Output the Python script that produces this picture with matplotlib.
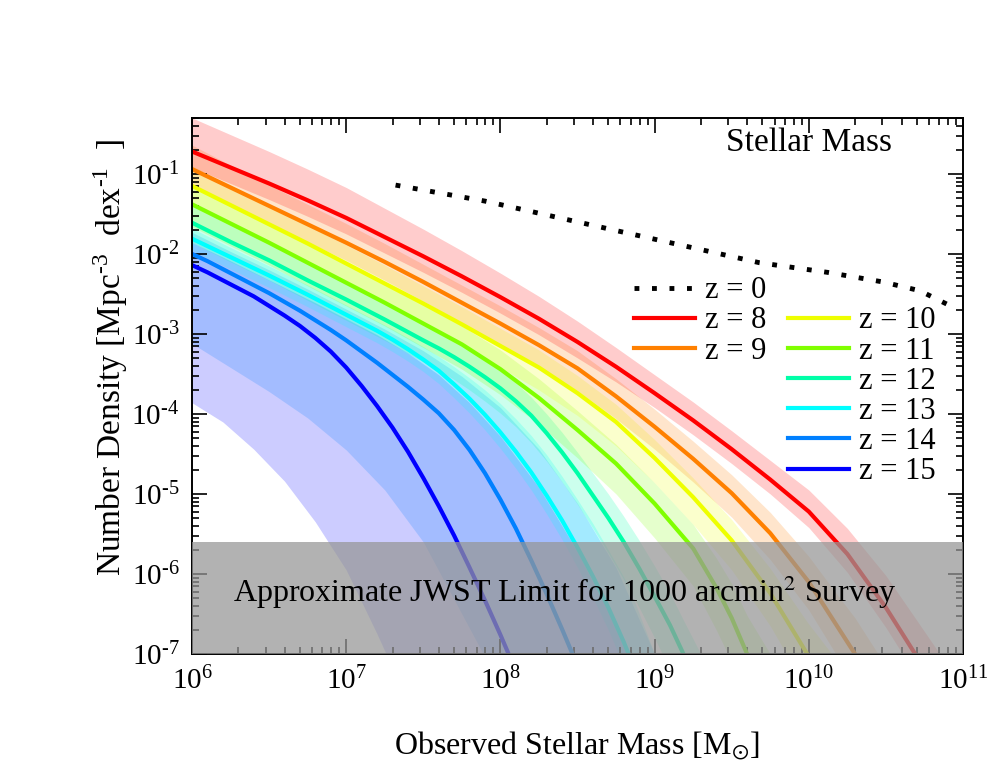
import numpy as np
import matplotlib
matplotlib.use("Agg")
import matplotlib.pyplot as plt
from matplotlib.ticker import LogLocator, NullFormatter, FuncFormatter

plt.rcParams["font.family"] = ["Liberation Serif", "DejaVu Serif"]
plt.rcParams["mathtext.fontset"] = "stix"

# log10 stellar mass, log10 number density (line, band top, band bottom)
logm_z8 = [6.0, 6.25, 6.5, 6.75, 7.0, 7.25, 7.5, 7.75, 8.0, 8.25, 8.5, 8.75, 9.0, 9.25, 9.5, 9.75, 10.0, 10.25, 10.5, 10.69, 10.85]
logn_z8 = [-0.72, -0.92, -1.12, -1.33, -1.55, -1.79, -2.03, -2.28, -2.54, -2.81, -3.10, -3.41, -3.74, -4.08, -4.44, -4.82, -5.22, -5.75, -6.42, -7.0, -7.55]
hi_z8 = [-0.30, -0.51, -0.72, -0.94, -1.17, -1.43, -1.69, -1.96, -2.24, -2.53, -2.84, -3.17, -3.51, -3.85, -4.21, -4.58, -4.95, -5.43, -6.02, -6.55, -7.0]
lo_z8 = [-0.92, -1.12, -1.32, -1.53, -1.75, -1.99, -2.23, -2.48, -2.74, -3.01, -3.30, -3.60, -3.92, -4.26, -4.62, -5.0, -5.42, -5.98, -6.67, -7.25, -7.8]

logm_z9 = [6.0, 6.25, 6.5, 6.75, 7.0, 7.25, 7.5, 7.75, 8.0, 8.25, 8.5, 8.75, 9.0, 9.25, 9.5, 9.75, 10.0, 10.15, 10.30, 10.45]
logn_z9 = [-0.94, -1.17, -1.40, -1.63, -1.86, -2.10, -2.35, -2.61, -2.87, -3.14, -3.43, -3.78, -4.16, -4.56, -4.99, -5.49, -6.10, -6.55, -7.0, -7.5]
hi_z9 = [-0.64, -0.89, -1.14, -1.38, -1.62, -1.87, -2.13, -2.39, -2.65, -2.92, -3.21, -3.56, -3.94, -4.34, -4.76, -5.23, -5.78, -6.17, -6.55, -7.0]
lo_z9 = [-1.16, -1.39, -1.62, -1.85, -2.08, -2.33, -2.59, -2.86, -3.13, -3.41, -3.71, -4.06, -4.44, -4.85, -5.29, -5.82, -6.45, -6.92, -7.4, -7.9]

logm_z10 = [6.0, 6.25, 6.5, 6.75, 7.0, 7.25, 7.5, 7.75, 8.0, 8.25, 8.5, 8.75, 9.0, 9.25, 9.5, 9.75, 9.99, 10.15]
logn_z10 = [-1.15, -1.39, -1.63, -1.87, -2.12, -2.37, -2.62, -2.88, -3.15, -3.42, -3.74, -4.10, -4.55, -5.04, -5.58, -6.24, -7.0, -7.55]
hi_z10 = [-0.90, -1.15, -1.40, -1.64, -1.89, -2.14, -2.40, -2.66, -2.93, -3.20, -3.52, -3.88, -4.32, -4.80, -5.32, -5.93, -6.6, -7.0]
lo_z10 = [-1.40, -1.64, -1.88, -2.12, -2.37, -2.62, -2.88, -3.15, -3.42, -3.70, -4.02, -4.40, -4.86, -5.38, -5.95, -6.65, -7.45, -8.0]

logm_z11 = [6.0, 6.25, 6.5, 6.75, 7.0, 7.25, 7.5, 7.75, 8.0, 8.25, 8.5, 8.75, 9.0, 9.25, 9.4, 9.5, 9.6, 9.75]
logn_z11 = [-1.38, -1.62, -1.86, -2.11, -2.36, -2.61, -2.87, -3.13, -3.44, -3.80, -4.20, -4.62, -5.12, -5.68, -6.17, -6.55, -7.0, -7.6]
hi_z11 = [-1.14, -1.38, -1.62, -1.87, -2.12, -2.37, -2.63, -2.90, -3.20, -3.56, -3.96, -4.38, -4.86, -5.38, -5.80, -6.12, -6.52, -7.0]
lo_z11 = [-1.66, -1.90, -2.14, -2.40, -2.65, -2.90, -3.17, -3.44, -3.76, -4.13, -4.55, -5.0, -5.55, -6.15, -6.7, -7.1, -7.6, -8.2]

logm_z12 = [6.0, 6.25, 6.5, 6.75, 7.0, 7.25, 7.5, 7.6, 7.7, 7.8, 7.9, 8.0, 8.1, 8.2, 8.3, 8.4, 8.5, 8.6, 8.7, 8.8, 8.9, 9.0, 9.1, 9.18, 9.3]
logn_z12 = [-1.61, -1.85, -2.08, -2.33, -2.57, -2.82, -3.08, -3.18, -3.29, -3.41, -3.54, -3.68, -3.84, -4.02, -4.24, -4.48, -4.74, -5.02, -5.30, -5.60, -5.93, -6.28, -6.64, -6.97, -7.5]
hi_z12 = [-1.39, -1.63, -1.86, -2.11, -2.35, -2.60, -2.86, -2.96, -3.07, -3.19, -3.32, -3.46, -3.61, -3.79, -4.0, -4.23, -4.48, -4.74, -5.0, -5.28, -5.58, -5.9, -6.24, -6.55, -7.0]
lo_z12 = [-1.86, -2.10, -2.33, -2.58, -2.83, -3.08, -3.35, -3.45, -3.57, -3.70, -3.84, -3.99, -4.16, -4.36, -4.59, -4.85, -5.13, -5.43, -5.74, -6.07, -6.42, -6.8, -7.2, -7.5, -8.0]

logm_z13 = [6.0, 6.25, 6.5, 6.75, 7.0, 7.1, 7.2, 7.3, 7.4, 7.5, 7.6, 7.7, 7.8, 7.9, 8.0, 8.1, 8.2, 8.3, 8.4, 8.5, 8.6, 8.7, 8.8, 8.84, 9.0]
logn_z13 = [-1.81, -2.04, -2.27, -2.51, -2.76, -2.86, -2.96, -3.07, -3.19, -3.32, -3.46, -3.63, -3.81, -4.01, -4.23, -4.47, -4.73, -5.02, -5.33, -5.67, -6.03, -6.42, -6.85, -7.04, -7.8]
hi_z13 = [-1.68, -1.92, -2.15, -2.39, -2.64, -2.74, -2.84, -2.94, -3.05, -3.16, -3.28, -3.41, -3.55, -3.70, -3.87, -4.06, -4.27, -4.51, -4.78, -5.07, -5.37, -5.70, -6.04, -6.19, -7.0]
lo_z13 = [-1.96, -2.19, -2.42, -2.66, -2.91, -3.01, -3.11, -3.22, -3.34, -3.47, -3.62, -3.80, -3.99, -4.20, -4.43, -4.68, -4.95, -5.25, -5.57, -5.92, -6.30, -6.70, -7.15, -7.35, -8.1]

logm_z14 = [6.0, 6.1, 6.2, 6.3, 6.4, 6.5, 6.6, 6.7, 6.8, 6.9, 7.0, 7.1, 7.2, 7.3, 7.4, 7.5, 7.6, 7.7, 7.8, 7.9, 8.0, 8.1, 8.2, 8.3, 8.4, 8.47]
logn_z14 = [-2.00, -2.09, -2.19, -2.29, -2.39, -2.49, -2.60, -2.71, -2.83, -2.95, -3.08, -3.22, -3.36, -3.51, -3.66, -3.82, -3.99, -4.20, -4.45, -4.74, -5.07, -5.43, -5.83, -6.25, -6.69, -7.01]
band_m_z14 = [6.0, 6.25, 6.5, 6.75, 7.0, 7.25, 7.5, 7.75, 8.0, 8.25, 8.5, 8.75, 9.0]
hi_z14 = [-1.73, -1.97, -2.20, -2.44, -2.69, -2.94, -3.21, -3.53, -3.92, -4.44, -5.12, -5.92, -7.0]
lo_z14 = [-3.12, -3.42, -3.72, -4.05, -4.45, -4.95, -5.60, -6.50, -7.4, -8.0, -8.5, -9.0, -9.5]

logm_z15 = [6.0, 6.1, 6.2, 6.3, 6.4, 6.5, 6.6, 6.7, 6.8, 6.9, 7.0, 7.1, 7.2, 7.3, 7.4, 7.5, 7.6, 7.7, 7.8, 7.9, 8.0, 8.06]
logn_z15 = [-2.14, -2.23, -2.33, -2.43, -2.53, -2.65, -2.77, -2.90, -3.05, -3.22, -3.42, -3.65, -3.90, -4.17, -4.47, -4.80, -5.15, -5.52, -5.92, -6.33, -6.76, -7.03]
band_m_z15 = [6.0, 6.2, 6.4, 6.6, 6.8, 7.0, 7.2, 7.4, 7.6, 7.8, 8.0, 8.25, 8.5, 8.7, 8.84]
hi_z15 = [-1.86, -2.04, -2.23, -2.42, -2.61, -2.81, -3.01, -3.24, -3.51, -3.86, -4.28, -4.92, -5.72, -6.47, -7.09]
lo_z15 = [-3.86, -4.10, -4.44, -4.84, -5.35, -5.95, -6.75, -7.6, -8.2, -8.8, -9.4, -10.0, -10.0, -10.0, -10.0]

logm_z0 = [7.32, 7.90, 8.50, 9.68, 10.12, 10.48, 10.72, 10.83, 10.94]
logn_z0 = [-1.14, -1.34, -1.60, -2.11, -2.23, -2.35, -2.46, -2.565, -2.67]

labels = ["z = 8", "z = 9", "z = 10", "z = 11", "z = 12", "z = 13", "z = 14", "z = 15"]
colors = ["#ff0000", "#ff8000", "#eeff00", "#80ff00", "#00ffa8", "#00ffff", "#0080ff", "#0000ff"]
masses = [logm_z8, logm_z9, logm_z10, logm_z11, logm_z12, logm_z13, logm_z14, logm_z15]
dens = [logn_z8, logn_z9, logn_z10, logn_z11, logn_z12, logn_z13, logn_z14, logn_z15]
band_masses = [logm_z8, logm_z9, logm_z10, logm_z11, logm_z12, logm_z13, band_m_z14, band_m_z15]
highs = [hi_z8, hi_z9, hi_z10, hi_z11, hi_z12, hi_z13, hi_z14, hi_z15]
lows = [lo_z8, lo_z9, lo_z10, lo_z11, lo_z12, lo_z13, lo_z14, lo_z15]

jwst_limit = 2.5e-6

fig = plt.figure(figsize=(9.97, 7.7), dpi=100)
ax = fig.add_axes([0.1926, 0.1506, 0.7733, 0.6962])

# bands, highest redshift first so z=8 ends up on top
for i in range(7, -1, -1):
    ax.fill_between(10 ** np.array(band_masses[i]), 10 ** np.array(lows[i]),
                    10 ** np.array(highs[i]), color=colors[i], alpha=0.2, lw=0)

ax.plot(10 ** np.array(logm_z0), 10 ** np.array(logn_z0), color="black",
        lw=3.5, ls=(0, (1, 2.6)), label="z = 0")

for i in range(8):
    ax.plot(10 ** np.array(masses[i]), 10 ** np.array(dens[i]),
            color=colors[i], lw=3, label=labels[i], solid_joinstyle="round")

ax.axhspan(1e-8, jwst_limit, color="#969696", alpha=0.73, lw=0, zorder=5)
ax.text(0.484, 0.116, "Approximate JWST Limit for 1000 arcmin$^{2}$ Survey",
        transform=ax.transAxes, ha="center", va="center", fontsize=23, zorder=6)
ax.text(0.80, 0.953, "Stellar Mass", transform=ax.transAxes,
        ha="center", va="center", fontsize=24)

ax.set_xscale("log")
ax.set_yscale("log")
ax.set_xlim(1e6, 1e11)
ax.set_ylim(1e-7, 0.5)


def pow_label(v, pos):
    e = int(round(np.log10(v)))
    return r"$\mathdefault{10^{%s}}$" % str(e).replace("-", "\u2010")


for axis in [ax.xaxis, ax.yaxis]:
    axis.set_major_locator(LogLocator(base=10, numticks=20))
    axis.set_major_formatter(FuncFormatter(pow_label))
    axis.set_minor_locator(LogLocator(base=10, subs=np.arange(2, 10), numticks=100))
    axis.set_minor_formatter(NullFormatter())

ax.tick_params(which="both", direction="in", top=True, right=True, width=1.2)
ax.tick_params(which="major", length=11, labelsize=21, pad=9)
ax.tick_params(which="minor", length=5)
for sp in ax.spines.values():
    sp.set_linewidth(1.4)

ax.set_xlabel(r"Observed Stellar Mass [M$_{\odot}$]", fontsize=23)
ax.set_ylabel("Number Density [Mpc$^{\\mathdefault{\u20103}}$  dex$^{\\mathdefault{\u20101}}$  ]",
              fontsize=24)
ax.xaxis.set_label_coords(0.5, -0.142)
ax.yaxis.set_label_coords(-0.080, 0.554)

h = ax.get_legend_handles_labels()[0]
leg1 = ax.legend(h[:3], ["z = 0", "z = 8", "z = 9"], loc="upper left",
                 bbox_to_anchor=(0.573, 0.7047), frameon=False, fontsize=22,
                 handlelength=2.0, handletextpad=0.33, labelspacing=0.04,
                 borderpad=0, borderaxespad=0)
ax.add_artist(leg1)
ax.legend(h[3:], labels[2:], loc="upper left",
          bbox_to_anchor=(0.773, 0.6487), frameon=False, fontsize=22,
          handlelength=2.0, handletextpad=0.33, labelspacing=0.04,
          borderpad=0, borderaxespad=0)

fig.savefig("out.png", dpi=100)
